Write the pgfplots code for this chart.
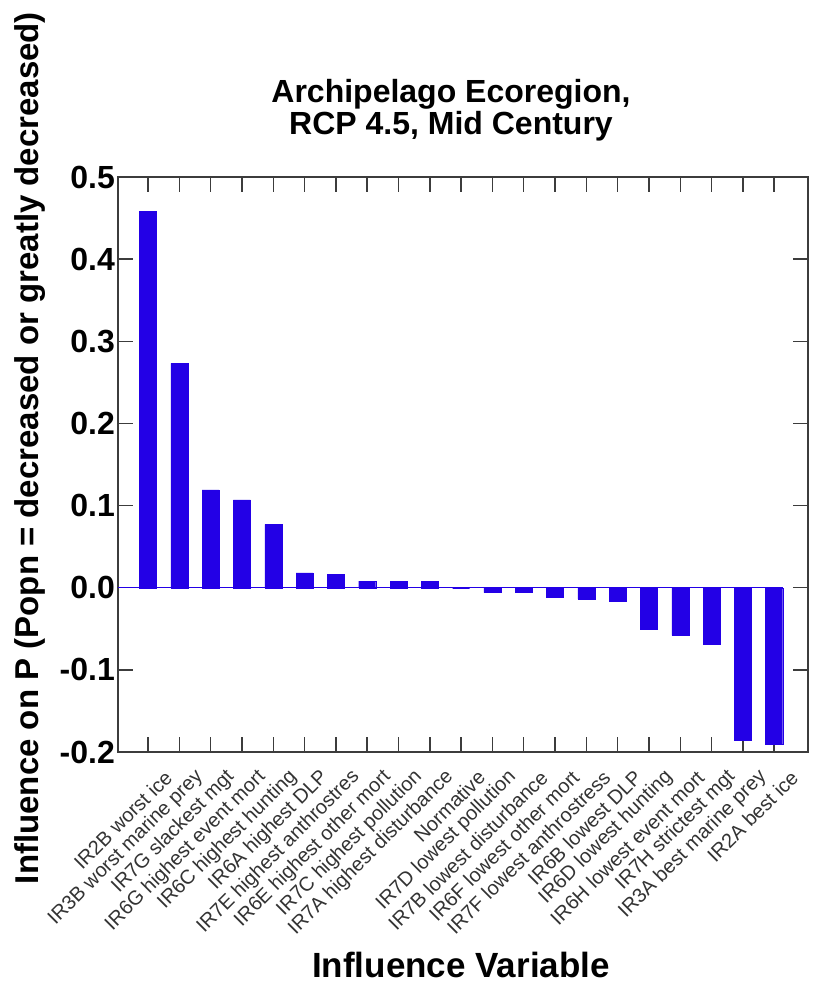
\documentclass[border=0pt]{standalone}
\usepackage{pgfplots}
\pgfplotsset{compat=1.18}
\usepackage{fontspec}
\setmainfont{Liberation Sans}
\definecolor{barblue}{RGB}{35,0,230}
\definecolor{axisgray}{RGB}{60,60,60}
\begin{document}
\begin{tikzpicture}
\useasboundingbox (-118pt,-232pt) rectangle (700pt,752pt);
\begin{axis}[
  at={(0pt,0pt)}, anchor=south west,
  width=690pt, height=575pt, scale only axis,
  xmin=-0.96, xmax=21.08, ymin=-0.2, ymax=0.5,
  axis line style={line width=1.5pt, axisgray},
  tick align=inside, major tick length=15pt,
  tick style={line width=1.5pt, axisgray},
  xtick={0,...,20},
  xticklabels={IR2B worst ice, IR3B worst marine prey, IR7G slackest mgt, IR6G highest event mort, IR6C highest hunting, IR6A highest DLP, IR7E highest anthrostres, IR6E highest other mort, IR7C highest pollution, IR7A highest disturbance, Normative, IR7D lowest pollution, IR7B lowest disturbance, IR6F lowest other mort, IR7F lowest anthrostress, IR6B lowest DLP, IR6D lowest hunting, IR6H lowest event mort, IR7H strictest mgt, IR3A best marine prey, IR2A best ice},
  xticklabel style={rotate=45, anchor=east, font=\fontsize{20}{20}\selectfont, text=black!80, inner sep=0pt, xshift=-1pt, yshift=-30pt},
  ytick={-0.2,-0.1,0,0.1,0.2,0.3,0.4,0.5},
  yticklabels={-0.2,-0.1,0.0,0.1,0.2,0.3,0.4,0.5},
  yticklabel style={font=\fontsize{32}{32}\selectfont\bfseries, inner sep=3pt},
]
\addplot[barblue, line width=1pt, sharp plot, forget plot] coordinates {(-0.96,0) (20.29,0)};
\addplot[ybar, bar width=17pt, fill=barblue, draw=barblue] coordinates {
(0,0.458) (1,0.273) (2,0.119) (3,0.107) (4,0.077) (5,0.018) (6,0.016)
(7,0.008) (8,0.008) (9,0.008) (10,0) (11,-0.006) (12,-0.006) (13,-0.012)
(14,-0.014) (15,-0.016) (16,-0.050) (17,-0.058) (18,-0.069) (19,-0.186) (20,-0.190)};
\end{axis}
\node[anchor=base, font=\fontsize{32}{34}\selectfont\bfseries] at (333pt,649pt) {Archipelago Ecoregion,};
\node[anchor=base, font=\fontsize{32}{34}\selectfont\bfseries] at (333pt,617pt) {RCP 4.5, Mid Century};
\node[rotate=90, font=\fontsize{33}{33}\selectfont\bfseries] at (-88pt,304pt) {Influence on P (Popn = decreased or greatly decreased)};
\node[font=\fontsize{35}{35}\selectfont\bfseries] at (343pt,-213pt) {Influence Variable};
\end{tikzpicture}
\end{document}
